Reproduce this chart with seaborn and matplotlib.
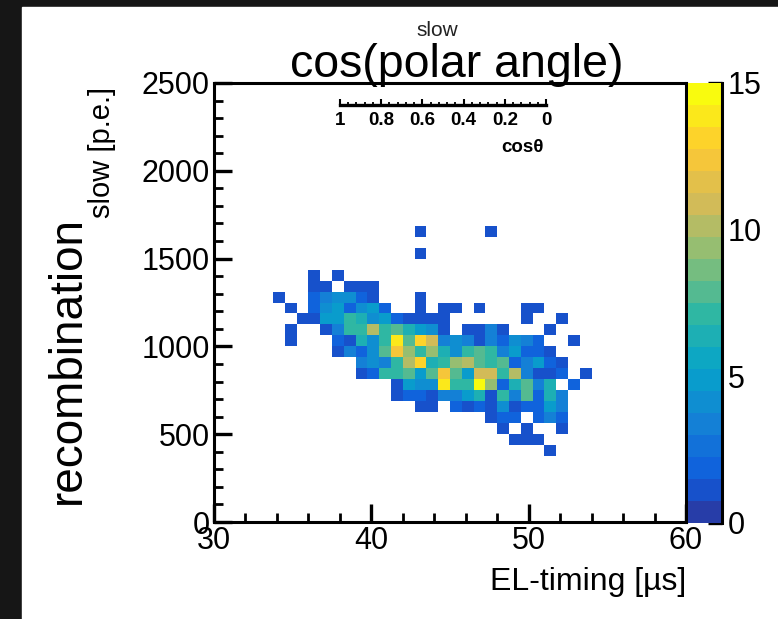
import numpy as np
import pandas as pd
import matplotlib
matplotlib.use("Agg")
import matplotlib.pyplot as plt
import seaborn as sns
from matplotlib.colors import LinearSegmentedColormap, ListedColormap
from matplotlib.patches import Rectangle
from matplotlib.ticker import MultipleLocator

# --- data: 2D histogram, 40 x 40 bins -------------------------------------
x_edges = np.linspace(30, 60, 41)      # EL-timing [us]
y_edges = np.linspace(0, 2500, 41)     # slow [p.e.]

first_x_bin = 5                        # columns below start at x bin 5
y_bins = [26, 25, 24, 23, 22, 21, 20, 19, 18, 17, 16,
          15, 14, 13, 12, 11, 10, 9, 8, 7, 6]
counts = [
    [0,0,0,0,0,0,0,0,0,0,0,0,1,0,0,0,0,0,1,0,0,0,0,0,0,0,0],
    [0,0,0,0,0,0,0,0,0,0,0,0,0,0,0,0,0,0,0,0,0,0,0,0,0,0,0],
    [0,0,0,0,0,0,0,0,0,0,0,0,1,0,0,0,0,0,0,0,0,0,0,0,0,0,0],
    [0,0,0,0,0,0,0,0,0,0,0,0,0,0,0,0,0,0,0,0,0,0,0,0,0,0,0],
    [0,0,0,1,0,1,0,0,0,0,0,0,0,0,0,0,0,0,0,0,0,0,0,0,0,0,0],
    [0,0,0,1,1,0,1,1,1,0,0,0,0,0,0,0,0,0,0,0,0,0,0,0,0,0,0],
    [1,0,0,2,3,4,4,2,1,0,0,0,1,0,0,0,0,0,0,0,0,0,0,0,0,0,0],
    [0,1,0,2,4,5,2,4,5,2,0,0,1,0,1,1,0,1,0,0,0,1,1,0,0,0,0],
    [0,0,1,1,5,5,7,6,4,5,2,1,1,1,1,0,0,0,0,0,0,1,0,0,1,0,0],
    [0,1,0,0,1,3,7,7,10,7,8,6,5,4,1,0,1,1,3,1,0,0,0,1,0,0,0],
    [0,1,0,0,0,2,1,6,4,7,14,8,13,11,3,4,3,1,3,2,4,3,2,0,0,1,0],
    [0,0,0,0,0,1,3,2,4,8,12,9,7,9,6,4,7,8,7,3,5,2,2,1,0,0,0],
    [0,0,0,0,0,0,0,3,4,3,7,10,13,6,7,9,10,8,7,8,2,3,5,2,1,0,0],
    [0,0,0,0,0,0,0,1,2,7,7,8,5,8,12,8,5,11,11,7,10,3,1,1,2,0,1],
    [0,0,0,0,0,0,0,0,0,0,1,5,4,4,14,7,7,15,9,2,6,8,3,6,0,2,0],
    [0,0,0,0,0,0,0,0,0,0,1,2,2,1,3,3,5,6,1,7,3,8,2,6,3,0,0],
    [0,0,0,0,0,0,0,0,0,0,0,0,1,1,0,2,1,2,1,4,1,2,2,5,3,0,0],
    [0,0,0,0,0,0,0,0,0,0,0,0,0,0,0,0,0,0,1,2,2,0,2,3,2,0,0],
    [0,0,0,0,0,0,0,0,0,0,0,0,0,0,0,0,0,0,0,1,0,1,0,0,1,0,0],
    [0,0,0,0,0,0,0,0,0,0,0,0,0,0,0,0,0,0,0,0,1,1,1,0,0,0,0],
    [0,0,0,0,0,0,0,0,0,0,0,0,0,0,0,0,0,0,0,0,0,0,0,1,0,0,0],
]
z_max = 15
cbar_ticks = [0, 5, 10, 15]
cos_ticks = [1, 0.8, 0.6, 0.4, 0.2, 0]

# bin centres + weights -> long table for histplot
x_centres = 0.5 * (x_edges[:-1] + x_edges[1:])
y_centres = 0.5 * (y_edges[:-1] + y_edges[1:])
rows = []
for jb, row in zip(y_bins, counts):
    for k, c in enumerate(row):
        if c > 0:
            rows.append((x_centres[first_x_bin + k], y_centres[jb], c))
df = pd.DataFrame(rows, columns=["el_timing", "slow", "n"])

# --- ROOT kBird palette, 20 contour levels ----------------------------------
stops = [0.0, 0.125, 0.25, 0.375, 0.5, 0.625, 0.75, 0.875, 1.0]
red = [0.2082, 0.0592, 0.0780, 0.0232, 0.1802, 0.5301, 0.8186, 0.9956, 0.9764]
green = [0.1664, 0.3599, 0.5041, 0.6419, 0.7178, 0.7492, 0.7328, 0.7862, 0.9832]
blue = [0.5293, 0.8684, 0.8385, 0.7914, 0.6425, 0.4662, 0.3499, 0.1968, 0.0539]
bird = LinearSegmentedColormap.from_list(
    "bird", list(zip(stops, zip(red, green, blue))))
n_levels = 20
level_cols = [bird(min(1.0, int((k + 0.99) * 255 / n_levels) / 254.0))
              for k in range(n_levels)]
cmap = ListedColormap(level_cols)

# --- figure -----------------------------------------------------------------
sns.set_theme(style="ticks")
plt.rcParams["font.family"] = ["Liberation Sans", "DejaVu Sans"]
plt.rcParams["text.color"] = "black"
plt.rcParams["xtick.color"] = "black"
plt.rcParams["ytick.color"] = "black"

W, H = 778, 619
fig = plt.figure(figsize=(W / 100, H / 100), dpi=100, facecolor="#161616")
fig.patches.append(Rectangle((22 / W, 0), 1 - 22 / W, 1 - 7 / H,
                             transform=fig.transFigure, color="white",
                             zorder=-10))


def box(x0, y0, x1, y1):
    # pixel box (top-left origin) -> figure fraction
    return [x0 / W, 1 - y1 / H, (x1 - x0) / W, (y1 - y0) / H]


def fx(x):
    return x / W


def fy(y):
    return 1 - y / H


ax = fig.add_axes(box(214, 83, 686, 522))
cax = fig.add_axes(box(688, 83, 722, 523))

sns.histplot(data=df, x="el_timing", y="slow", weights="n",
             bins=(x_edges, y_edges), cmap=cmap, vmin=0, vmax=z_max,
             cbar=True, cbar_ax=cax, ax=ax)

ax.set_xlim(30, 60)
ax.set_ylim(0, 2500)
ax.set_xlabel("")
ax.set_ylabel("")
ax.set_facecolor("white")
ax.xaxis.set_major_locator(MultipleLocator(10))
ax.xaxis.set_minor_locator(MultipleLocator(2))
ax.yaxis.set_major_locator(MultipleLocator(500))
ax.yaxis.set_minor_locator(MultipleLocator(100))
for s in ax.spines.values():
    s.set_visible(True)
    s.set_linewidth(2.2)
    s.set_color("black")
ax.tick_params(which="both", direction="in", top=False, right=False,
               bottom=True, left=True, color="black", labelsize=22,
               labelcolor="black")
ax.tick_params(which="major", length=13, width=2.4, pad=3)
ax.tick_params(which="minor", length=6.5, width=2.0)

# colour bar
cb = ax.collections[0].colorbar
cb.outline.set_visible(False)
cax.set_yticks(cbar_ticks)
cax.set_yticklabels([str(t) for t in cbar_ticks])
cax.yaxis.set_minor_locator(plt.NullLocator())
cax.tick_params(axis="y", which="major", right=True, left=False,
                labelright=True, labelleft=False, direction="in",
                length=10, width=2.4, labelsize=22, pad=4, color="black",
                labelcolor="black")
for spine in cax.spines.values():
    spine.set_visible(False)
cax.spines["right"].set_visible(True)
cax.spines["right"].set_linewidth(2.2)
cax.spines["right"].set_color("black")

# little cos(theta) scale above the histogram
sax = fig.add_axes(box(340, 95, 546, 105))
sax.set_facecolor("none")
sax.set_xlim(1, 0)
sax.set_yticks([])
for k in ["left", "right", "top"]:
    sax.spines[k].set_visible(False)
sax.spines["bottom"].set_linewidth(2.4)
sax.spines["bottom"].set_color("black")
sax.set_xticks(cos_ticks)
sax.set_xticklabels([f"{t:g}" for t in cos_ticks], fontweight="bold")
sax.xaxis.set_minor_locator(MultipleLocator(0.04))
sax.tick_params(axis="x", which="both", direction="in", color="black",
                labelsize=13.5, pad=5, labelcolor="black")
sax.tick_params(axis="x", which="major", length=4, width=1.5)
sax.tick_params(axis="x", which="minor", length=2.5, width=1.3)
fig.text(fx(522), fy(147), "cos\u03b8", fontsize=13.5, fontweight="bold",
         ha="center", va="center")

# texts
fig.text(fx(437), fy(36), "slow", fontsize=15, color="#222222",
         ha="center", va="baseline")
fig.text(fx(457), fy(77), "cos(polar angle)", fontsize=33.5,
         ha="center", va="baseline")
fig.text(fx(80), fy(360), "recombination", fontsize=33, rotation=90,
         rotation_mode="anchor", ha="center", va="baseline")
fig.text(fx(110), fy(152), "slow [p.e.]", fontsize=21, rotation=90,
         rotation_mode="anchor", ha="center", va="baseline")
fig.text(fx(686), fy(590), "EL-timing [\u00b5s]", fontsize=23,
         ha="right", va="baseline")

fig.savefig("out.png", dpi=100, facecolor=fig.get_facecolor())
